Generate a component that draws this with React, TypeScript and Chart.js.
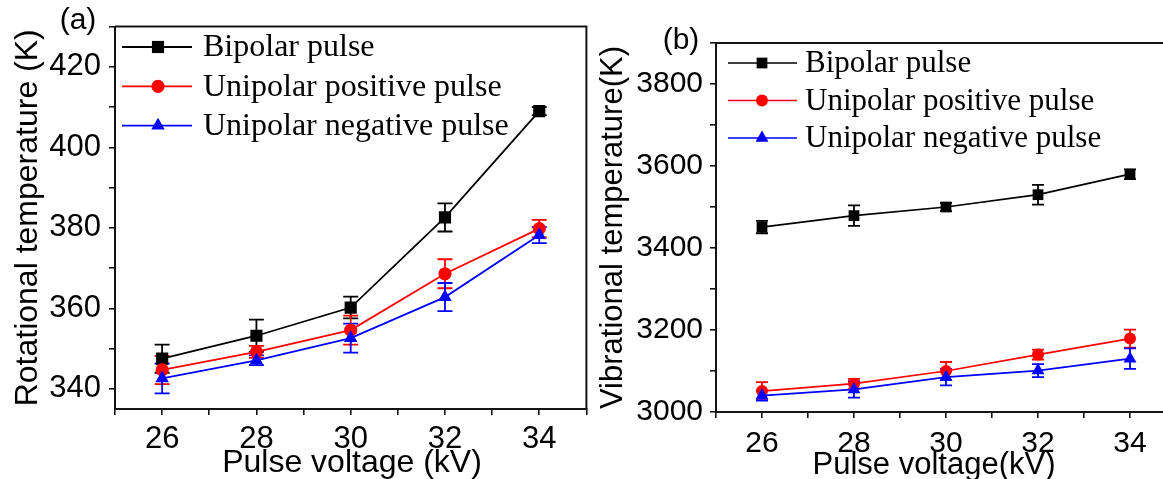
import React, { useEffect, useRef } from 'react';
import { Chart, registerables } from 'chart.js';

Chart.register(...registerables);

// ---------- data ----------
const voltages = [26, 28, 30, 32, 34];
const voltageTicks = [26, 28, 30, 32, 34];
const seriesLabels = ['Bipolar pulse', 'Unipolar positive pulse', 'Unipolar negative pulse'];

const rotBipolar = [347.5, 353.2, 360.2, 382.6, 409.0];
const rotBipolarErr = [3.5, 4.0, 2.7, 3.5, 1.0];
const rotPositive = [344.7, 349.2, 354.6, 368.6, 379.8];
const rotPositiveErr = [3.5, 1.5, 3.6, 3.6, 2.2];
const rotNegative = [342.6, 347.1, 352.6, 362.8, 378.2];
const rotNegativeErr = [3.7, 1.2, 3.6, 3.5, 2.0];
const rotTicks = [340, 360, 380, 400, 420];

const vibBipolar = [3451, 3479, 3500, 3530, 3580];
const vibBipolarErr = [15, 25, 10, 24, 12];
const vibPositive = [3051, 3069, 3100, 3140, 3179];
const vibPositiveErr = [22, 12, 22, 12, 22];
const vibNegative = [3040, 3055, 3085, 3101, 3130];
const vibNegativeErr = [12, 20, 20, 16, 25];
const vibTicks = [3000, 3200, 3400, 3600, 3800];

// ---------- styles ----------
const seriesColors = ['#000000', '#ff0000', '#0000ff'];
const seriesMarkers = ['rect', 'circle', 'triangle'];
const SANS = "'Liberation Sans', Arial, sans-serif";
const SERIF = "'Liberation Serif', 'Times New Roman', serif";
const AXIS = '#141414';

type PanelCfg = {
  values: number[][];
  errors: number[][];
  yMin: number;
  yMax: number;
  yStep: number;
  yLabels: number[];
  xTitle: string;
  yTitle: string;
  tag: string;
  left: number;
  width: number;
  padTop: number;
  padRight: number;
  yAxisWidth: number;
  xAxisHeight: number;
  tickFont: number;
  titleFont: number;
  yTitleX: number;
  xTitleX: number;
  xTitleY: number;
  tagX: number;
  tagY: number;
  legendLineX0: number;
  legendLineX1: number;
  legendMarkerX: number;
  legendTextX: number;
  legendY: number;
  legendGap: number;
  legendFont: number;
  markerRadius: number[];
  capHalf: number;
  xTickPad: number;
  yTickPad: number;
  lineWidth: number;
};

const panelA: PanelCfg = {
  values: [rotBipolar, rotPositive, rotNegative],
  errors: [rotBipolarErr, rotPositiveErr, rotNegativeErr],
  yMin: 335,
  yMax: 430,
  yStep: 10,
  yLabels: rotTicks,
  xTitle: 'Pulse voltage (kV)',
  yTitle: 'Rotational temperature (K)',
  tag: '(a)',
  left: 0,
  width: 595,
  padTop: 26,
  padRight: 6,
  yAxisWidth: 115,
  xAxisHeight: 70,
  tickFont: 31,
  titleFont: 32,
  yTitleX: 28,
  xTitleX: 352,
  xTitleY: 463,
  tagX: 78,
  tagY: 21,
  legendLineX0: 122,
  legendLineX1: 192,
  legendMarkerX: 158,
  legendTextX: 203,
  legendY: 47,
  legendGap: 39.3,
  legendFont: 32,
  markerRadius: [8.6, 6.6, 7.8],
  capHalf: 7.5,
  xTickPad: 6,
  yTickPad: 8,
  lineWidth: 1.8,
};

const panelB: PanelCfg = {
  values: [vibBipolar, vibPositive, vibNegative],
  errors: [vibBipolarErr, vibPositiveErr, vibNegativeErr],
  yMin: 3000,
  yMax: 3900,
  yStep: 100,
  yLabels: vibTicks,
  xTitle: 'Pulse voltage(kV)',
  yTitle: 'Vibrational temperature(K)',
  tag: '(b)',
  left: 590,
  width: 600,
  padTop: 43,
  padRight: 14,
  yAxisWidth: 126,
  xAxisHeight: 67,
  tickFont: 30,
  titleFont: 31,
  yTitleX: 23,
  xTitleX: 344,
  xTitleY: 465,
  tagX: 91,
  tagY: 41,
  legendLineX0: 138,
  legendLineX1: 207,
  legendMarkerX: 172,
  legendTextX: 215,
  legendY: 63,
  legendGap: 37.5,
  legendFont: 31,
  markerRadius: [7.6, 6, 7.5],
  capHalf: 6,
  xTickPad: 8,
  yTickPad: 7,
  lineWidth: 1.7,
};

function drawMarker(ctx: CanvasRenderingContext2D, style: string, x: number, y: number, r: number) {
  ctx.beginPath();
  if (style === 'rect') {
    const s = Math.SQRT1_2 * r;
    ctx.rect(x - s, y - s, 2 * s, 2 * s);
  } else if (style === 'circle') {
    ctx.arc(x, y, r, 0, Math.PI * 2);
  } else {
    ctx.moveTo(x, y - r);
    ctx.lineTo(x + 0.866 * r, y + 0.5 * r);
    ctx.lineTo(x - 0.866 * r, y + 0.5 * r);
    ctx.closePath();
  }
  ctx.fill();
}

function makePlugin(cfg: PanelCfg) {
  return {
    id: 'panelDecor',
    beforeDatasetsDraw(chart: any) {
      const ctx: CanvasRenderingContext2D = chart.ctx;
      const xs = chart.scales.x;
      const ys = chart.scales.y;
      ctx.save();
      cfg.values.forEach((vals, i) => {
        ctx.strokeStyle = seriesColors[i];
        ctx.lineWidth = 1.8;
        vals.forEach((v, j) => {
          const e = cfg.errors[i][j];
          const x = xs.getPixelForValue(voltages[j]);
          const yTop = ys.getPixelForValue(v + e);
          const yBot = ys.getPixelForValue(v - e);
          ctx.beginPath();
          ctx.moveTo(x, yTop);
          ctx.lineTo(x, yBot);
          ctx.moveTo(x - cfg.capHalf, yTop);
          ctx.lineTo(x + cfg.capHalf, yTop);
          ctx.moveTo(x - cfg.capHalf, yBot);
          ctx.lineTo(x + cfg.capHalf, yBot);
          ctx.stroke();
        });
      });
      ctx.restore();
    },
    afterDraw(chart: any) {
      const ctx: CanvasRenderingContext2D = chart.ctx;
      const a = chart.chartArea;
      ctx.save();
      // frame (top + right)
      ctx.strokeStyle = AXIS;
      ctx.lineWidth = 2;
      ctx.beginPath();
      ctx.moveTo(a.left, a.top);
      ctx.lineTo(a.right, a.top);
      ctx.lineTo(a.right, a.bottom);
      ctx.stroke();

      // legend
      seriesLabels.forEach((label, i) => {
        const y = cfg.legendY + i * cfg.legendGap;
        ctx.strokeStyle = seriesColors[i];
        ctx.fillStyle = seriesColors[i];
        ctx.lineWidth = cfg.lineWidth;
        ctx.beginPath();
        ctx.moveTo(cfg.legendLineX0, y);
        ctx.lineTo(cfg.legendLineX1, y);
        ctx.stroke();
        drawMarker(ctx, seriesMarkers[i], cfg.legendMarkerX, y, cfg.markerRadius[i]);
        ctx.fillStyle = '#000';
        ctx.font = `${cfg.legendFont}px ${SERIF}`;
        ctx.textAlign = 'left';
        ctx.textBaseline = 'middle';
        ctx.fillText(label, cfg.legendTextX, y + 1);
      });

      // axis titles
      ctx.fillStyle = '#000';
      ctx.font = `${cfg.titleFont}px ${SANS}`;
      ctx.textAlign = 'center';
      ctx.textBaseline = 'middle';
      ctx.fillText(cfg.xTitle, cfg.xTitleX, cfg.xTitleY);
      ctx.save();
      ctx.translate(cfg.yTitleX, (a.top + a.bottom) / 2);
      ctx.rotate(-Math.PI / 2);
      ctx.fillText(cfg.yTitle, 0, 0);
      ctx.restore();

      // panel tag
      ctx.font = `30px ${SANS}`;
      ctx.fillText(cfg.tag, cfg.tagX, cfg.tagY);
      ctx.restore();
    },
  };
}

function Panel({ cfg }: { cfg: PanelCfg }) {
  const ref = useRef<HTMLCanvasElement | null>(null);
  useEffect(() => {
    const canvas = ref.current;
    if (!canvas) return;
    const chart = new Chart(canvas, {
      type: 'line',
      data: {
        datasets: seriesLabels.map((label, i) => ({
          label,
          data: voltages.map((v, j) => ({ x: v, y: cfg.values[i][j] })),
          borderColor: seriesColors[i],
          backgroundColor: seriesColors[i],
          borderWidth: cfg.lineWidth,
          pointStyle: seriesMarkers[i],
          pointRadius: cfg.markerRadius[i],
          pointBorderWidth: 0,
          pointBackgroundColor: seriesColors[i],
          pointBorderColor: seriesColors[i],
          tension: 0,
          fill: false,
          order: 2 - i,
        })),
      },
      options: {
        responsive: false,
        animation: false,
        devicePixelRatio: 1,
        events: [],
        layout: { padding: { top: cfg.padTop, right: cfg.padRight, left: 0, bottom: 0 } },
        plugins: {
          legend: { display: false },
          tooltip: { enabled: false },
          title: { display: false },
        },
        scales: {
          x: {
            type: 'linear',
            min: 25,
            max: 35,
            afterFit: (s: any) => {
              s.height = cfg.xAxisHeight;
            },
            ticks: {
              stepSize: 1,
              autoSkip: false,
              maxRotation: 0,
              minRotation: 0,
              maxTicksLimit: 30,
              padding: cfg.xTickPad,
              color: '#000',
              font: { family: SANS, size: cfg.tickFont },
              callback: (v: any) => (voltageTicks.includes(Number(v)) ? String(v) : ''),
            },
            grid: { drawOnChartArea: false, drawTicks: true, tickLength: 6, color: AXIS, lineWidth: 1.6 },
            border: { display: true, color: AXIS, width: 2 },
          },
          y: {
            type: 'linear',
            min: cfg.yMin,
            max: cfg.yMax,
            afterFit: (s: any) => {
              s.width = cfg.yAxisWidth;
            },
            ticks: {
              stepSize: cfg.yStep,
              includeBounds: false,
              autoSkip: false,
              maxTicksLimit: 30,
              padding: cfg.yTickPad,
              color: '#000',
              font: { family: SANS, size: cfg.tickFont },
              callback: (v: any) => (cfg.yLabels.includes(Number(v)) ? String(v) : ''),
            },
            grid: { drawOnChartArea: false, drawTicks: true, tickLength: 6, color: AXIS, lineWidth: 1.6 },
            border: { display: true, color: AXIS, width: 2 },
          },
        },
      } as any,
      plugins: [makePlugin(cfg)],
    });
    return () => chart.destroy();
  }, [cfg]);
  return (
    <canvas
      ref={ref}
      width={cfg.width}
      height={479}
      style={{ position: 'absolute', left: cfg.left, top: 0, width: cfg.width, height: 479 }}
    />
  );
}

export default function App() {
  return (
    <div
      style={{
        position: 'absolute',
        left: 0,
        top: 0,
        width: 1163,
        height: 479,
        overflow: 'hidden',
        background: '#ffffff',
      }}
    >
      <Panel cfg={panelA} />
      <Panel cfg={panelB} />
    </div>
  );
}
